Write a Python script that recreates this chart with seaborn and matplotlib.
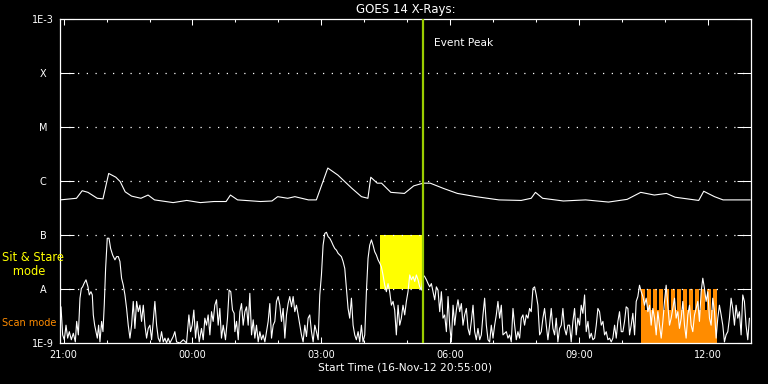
import numpy as np
import pandas as pd
import matplotlib
matplotlib.use("Agg")
import matplotlib.pyplot as plt
import matplotlib.dates as mdates
from matplotlib.ticker import NullLocator
import seaborn as sns

# ---------------- data ----------------
START = pd.Timestamp("2012-11-16 20:55:00")
END = pd.Timestamp("2012-11-17 13:00:00")

TITLE = "GOES 14 X-Rays:"
XLABEL = "Start Time (16-Nov-12 20:55:00)"

# long channel (1-8 A): minutes after start, log10 flux (W/m^2)
LONG_MIN = [0, 23, 31, 39, 52, 60, 68, 78, 84, 91, 100, 113, 123, 132, 158, 177, 196, 215, 232, 238,
            248, 280, 296, 304, 318, 328, 347, 358, 374, 388, 408, 421, 430, 434, 443, 449, 462, 481, 494, 507,
            517, 536, 555, 581, 613, 644, 658, 664, 674, 703, 734, 766, 792, 811, 830, 847, 859, 892, 899, 914,
            926, 964]
LONG_LOG = [-6.35, -6.32, -6.18, -6.21, -6.32, -6.33, -5.86, -5.93, -6.01, -6.20, -6.28, -6.32, -6.26, -6.35,
            -6.40, -6.36, -6.40, -6.38, -6.38, -6.26, -6.35, -6.38, -6.37, -6.29, -6.32, -6.29, -6.35, -6.35,
            -5.76, -5.89, -6.14, -6.29, -6.32, -5.93, -6.04, -6.04, -6.21, -6.23, -6.09, -6.04, -6.04, -6.14,
            -6.23, -6.29, -6.35, -6.36, -6.32, -6.21, -6.32, -6.37, -6.35, -6.39, -6.34, -6.21, -6.26, -6.23,
            -6.30, -6.36, -6.19, -6.29, -6.35, -6.35]

# short channel (0.5-4 A): minutes after start, log10 flux
SHORT_MIN = [
    0, 1.4, 3.7, 6.0, 8.4, 10.7, 13.0, 15.8, 18.6, 21.4,
    23.3, 25.6, 27.9, 29.8, 31.6, 33.5, 36.3, 39.1, 40.9, 43.2,
    45.1, 46.5, 48.4, 50.2, 52.1, 53.9, 55.8, 58.1, 60.0, 61.8,
    63.7, 66.0, 68.4, 70.7, 73.5, 76.7, 79.1, 81.4, 83.7, 86.0,
    88.4, 90.7, 93.0, 95.3, 97.7, 100.0, 102.3, 104.6, 107.0, 109.3,
    111.6, 113.9, 116.3, 118.6, 120.9, 123.2, 125.6, 127.9, 130.2, 132.5,
    134.9, 137.2, 139.5, 141.8, 144.2, 146.5, 148.8, 151.1, 153.5, 158.1,
    160.4, 162.8, 167.4, 172.1, 176.7, 180.0, 182.3, 184.6, 186.9, 189.3,
    191.6, 194.4, 197.6, 200.0, 202.3, 204.6, 206.9, 209.3, 211.6, 213.9,
    216.2, 218.6, 220.9, 223.2, 225.5, 227.9, 231.1, 233.9, 236.2, 238.5,
    240.9, 243.2,
    244.2, 246.5, 248.9, 251.2, 253.5, 255.8, 258.2, 260.5, 262.8, 265.1,
    267.5, 269.8, 272.1, 274.4, 276.8, 279.1, 281.4, 283.7, 286.1, 288.4,
    290.7, 293.0, 295.4, 297.7, 300.0, 302.3, 304.7, 307.0, 309.3, 311.6,
    314.0, 316.3, 318.6, 320.9, 323.3, 325.6, 327.9, 330.2, 332.6, 334.9,
    337.2, 339.5, 341.9, 344.2, 346.5, 348.8, 351.2, 353.5, 355.8, 358.1,
    360.5, 362.8, 365.1, 367.4, 369.8, 372.1, 374.4, 376.7, 379.1, 381.4,
    383.7, 386.0, 388.4, 390.7, 393.0, 395.3, 397.7, 400.0, 402.3, 404.6,
    407.0, 409.3, 411.6, 413.9, 416.3, 418.6, 420.9, 423.2, 425.6, 427.9,
    430.2, 432.5, 434.9, 437.2, 439.5, 441.8, 444.2, 446.5, 448.8, 451.1,
    453.5, 455.8, 458.1, 460.4, 462.8, 465.1, 467.4, 469.7, 472.1, 474.4,
    476.7, 479.0, 481.4, 483.7, 486.0,
    488.4, 490.7, 493.1, 495.4, 497.7, 500.0, 502.4, 504.7, 507.0, 509.3,
    511.7, 514.0, 516.3, 518.6, 521.0, 523.3, 525.6, 527.9, 530.3, 532.6,
    534.9, 537.2, 539.6, 541.9, 544.2, 546.5, 548.9, 551.2, 553.5, 555.8,
    558.2, 560.5, 562.8, 565.1, 567.5, 569.8, 572.1, 574.4, 576.8, 579.1,
    581.4, 583.7, 586.1, 588.4, 590.7, 593.0, 595.4, 597.7, 600.0, 602.3,
    604.7, 607.0, 609.3, 611.6, 614.0, 616.3, 618.6, 620.9, 623.3, 625.6,
    627.9, 630.2, 632.6, 634.9, 637.2, 639.5, 641.9, 644.2, 646.5, 648.8,
    651.2, 653.5, 655.8, 658.1, 660.5, 662.8, 665.1, 667.4, 669.8, 672.1,
    674.4, 676.7, 679.1, 681.4, 683.7, 686.0, 688.4, 690.7, 693.0, 695.3,
    697.7, 700.0, 702.3, 704.6, 707.0, 709.3, 711.6, 713.9, 716.3, 718.6,
    720.9, 723.2, 725.6, 727.9, 730.2,
    732.6, 734.9, 737.3, 739.6, 741.9, 744.2, 746.6, 748.9, 751.2, 753.5,
    755.9, 758.2, 760.5, 762.8, 765.2, 767.5, 769.8, 772.1, 774.5, 776.8,
    779.1, 781.4, 783.8, 786.1, 788.4, 790.7, 793.1, 795.4, 797.7, 800.0,
    802.4, 804.7, 807.0, 809.3, 811.7, 814.0, 816.3, 818.6, 821.0, 823.3,
    825.6, 827.9, 830.3, 832.6, 834.9, 837.2, 839.6, 841.9, 844.2, 846.5,
    848.9, 851.2, 853.5, 855.8, 858.2, 860.5, 862.8, 865.1, 867.5, 869.8,
    872.1, 874.4, 876.8, 879.1, 881.4, 883.7, 886.1, 888.4, 890.7, 893.0,
    895.4, 897.7, 900.0, 902.3, 904.7, 907.0, 909.3, 911.6, 914.0, 916.3,
    918.6, 920.9, 923.3, 925.6, 927.9, 930.2, 932.6, 934.9, 937.2, 939.5,
    941.9, 944.2, 946.5, 948.8, 951.2, 953.5, 955.8, 958.1, 960.5, 962.8,
]
SHORT_LOG = [
    -8.67, -8.33, -8.85, -8.94, -8.67, -8.91, -8.79, -8.94, -8.82, -8.98,
    -8.60, -8.85, -8.17, -7.99, -7.96, -7.90, -7.83, -7.96, -8.11, -8.05,
    -8.11, -8.48, -8.67, -8.79, -8.91, -8.67, -8.98, -8.60, -8.79, -8.30,
    -7.62, -7.06, -7.06, -7.25, -7.37, -7.46, -7.40, -7.40, -7.49, -7.80,
    -7.93, -8.11, -8.36, -8.67, -8.91, -8.67, -8.23, -8.73, -8.23, -8.42,
    -8.30, -8.60, -8.30, -8.67, -8.91, -8.73, -8.67, -8.94, -8.60, -8.23,
    -8.67, -8.91, -8.98, -8.79, -8.98, -8.91, -9.0, -8.91, -9.0, -8.88,
    -8.79, -8.98, -9.0, -8.94, -9.0, -8.48, -8.79, -8.67, -8.39, -8.91,
    -8.60, -8.98, -8.73, -8.94, -8.54, -8.67, -8.48, -8.85, -8.42, -8.60,
    -8.30, -8.20, -8.67, -8.36, -8.91, -8.67, -8.94, -8.54, -8.02, -8.05,
    -8.39, -8.45,
    -8.79, -8.60, -8.94, -8.42, -8.27, -8.67, -8.42, -8.33, -8.67, -8.08,
    -8.85, -8.57, -8.91, -8.67, -8.98, -8.79, -8.94, -8.85, -8.98, -8.79,
    -8.60, -8.27, -8.91, -8.67, -8.60, -8.23, -8.14, -8.30, -8.60, -8.36,
    -8.91, -8.48, -8.27, -8.14, -8.33, -8.14, -8.42, -8.30, -8.48, -8.67,
    -8.85, -8.98, -8.67, -8.88, -8.54, -8.48, -8.79, -8.98, -8.67, -8.79,
    -8.94, -8.11, -7.74, -7.19, -6.97, -6.95, -7.03, -7.06, -7.12, -7.19,
    -7.25, -7.28, -7.34, -7.37, -7.40, -7.49, -7.62, -7.99, -8.36, -8.54,
    -8.17, -8.67, -8.85, -8.94, -8.79, -8.98, -8.67, -8.98, -8.85, -8.05,
    -7.43, -7.19, -7.09, -7.19, -7.31, -7.37, -7.46, -7.52, -7.59, -7.74,
    -7.93, -8.05, -7.90, -8.05, -8.30, -8.23, -8.39, -8.85, -8.30, -8.67,
    -8.54, -8.30, -8.48, -8.23, -8.05,
    -7.74, -7.83, -7.77, -7.86, -7.74, -7.83, -7.96, -8.02, -7.74, -7.77,
    -7.83, -7.90, -7.96, -7.90, -8.05, -8.20, -7.96, -8.02, -8.42, -8.05,
    -8.54, -8.48, -8.79, -8.14, -8.67, -8.98, -8.30, -8.67, -8.39, -8.20,
    -8.42, -8.27, -8.67, -8.48, -8.36, -8.73, -8.85, -8.60, -8.30, -8.79,
    -8.94, -8.73, -8.94, -8.85, -8.48, -8.17, -8.67, -8.94, -8.98, -8.67,
    -8.91, -8.67, -8.48, -8.23, -8.54, -8.30, -8.85, -8.82, -8.79, -8.91,
    -8.85, -8.98, -8.36, -8.67, -8.94, -8.79, -8.91, -8.54, -8.48, -8.67,
    -8.48, -8.54, -8.36, -8.42, -7.99, -7.96, -8.11, -8.30, -8.85, -8.79,
    -8.54, -8.36, -8.67, -8.94, -8.67, -8.36, -8.73, -8.85, -8.54, -8.98,
    -8.73, -8.67, -8.36, -8.73, -8.85, -8.67, -8.67, -8.98, -8.60, -8.36,
    -8.85, -8.54, -8.67, -8.30, -8.45,
    -8.11, -8.79, -8.60, -8.91, -8.82, -8.94, -8.91, -8.67, -8.36, -8.42,
    -8.67, -8.60, -8.85, -8.79, -8.94, -8.91, -8.98, -8.91, -8.67, -8.91,
    -8.60, -8.42, -8.79, -8.79, -8.60, -8.33, -8.36, -8.85, -8.67, -8.45,
    -8.85, -8.23, -8.14, -7.93, -8.05, -8.14, -8.30, -8.17, -8.42, -8.30,
    -8.67, -8.36, -8.54, -8.85, -8.42, -8.67, -8.91, -8.60, -8.23, -7.93,
    -8.30, -8.67, -8.54, -8.36, -8.17, -8.54, -8.42, -8.73, -8.54, -8.23,
    -8.67, -8.91, -8.48, -8.30, -8.67, -8.79, -8.48, -8.36, -8.23, -8.60,
    -8.05, -7.80, -7.99, -8.23, -8.05, -8.54, -8.67, -8.17, -8.42, -8.91,
    -8.54, -8.30, -8.48, -8.67, -8.98, -8.85, -8.79, -8.54, -8.17, -8.36,
    -8.67, -8.30, -8.54, -8.42, -8.85, -8.11, -8.23, -8.67, -8.94, -8.54,
]

LEVEL_EXP = [-9, -8, -7, -6, -5, -4, -3]
LEVEL_LABELS = ["1E-9", "A", "B", "C", "M", "X", "1E-3"]
CLASS_EXP = [-8, -7, -6, -5, -4]

SIT_START, SIT_END = 446.5, 505.0          # minutes after start
SIT_LOW_EXP, SIT_HIGH_EXP = -8, -7
SCAN_STARTS = [811.7, 820.0, 828.4, 836.8, 845.1, 853.5, 861.9, 870.2, 878.6, 887.0, 895.4, 903.7, 912.1]
SCAN_WIDTH = 5.8
SCAN_LOW_EXP, SCAN_FLOOR_EXP, SCAN_HIGH_EXP = -9, -8.39, -8
PEAK_MIN = 507.5

WHITE = "#FFFFFF"
YELLOW = "#FFFF00"
ORANGE = "#FF8C00"
GREEN = "#9ACD00"


def to_time(mins):
    return (START + pd.to_timedelta(np.asarray(mins, dtype=float), unit="min")).to_pydatetime()


long_df = pd.DataFrame({"time": pd.to_datetime(to_time(LONG_MIN)), "flux": 10.0 ** np.array(LONG_LOG)})
short_df = pd.DataFrame({"time": pd.to_datetime(to_time(SHORT_MIN)), "flux": 10.0 ** np.array(SHORT_LOG)})

# ---------------- style ----------------
sns.set_style("dark", rc={
    "axes.facecolor": "black", "figure.facecolor": "black",
    "axes.edgecolor": WHITE, "text.color": WHITE, "axes.labelcolor": WHITE,
    "xtick.color": WHITE, "ytick.color": WHITE, "axes.grid": False,
})
plt.rcParams["font.family"] = ["DejaVu Sans"]

fig = plt.figure(figsize=(7.68, 3.84), dpi=100, facecolor="black")
ax = fig.add_axes([60 / 768, 1 - 343 / 384, 691 / 768, 324 / 384])
ax.set_facecolor("black")
ax.set_yscale("log")

# observation-mode blocks
ax.fill_between(to_time([SIT_START, SIT_END]), 10.0 ** SIT_LOW_EXP, 10.0 ** SIT_HIGH_EXP,
                color=YELLOW, lw=0, zorder=1)
ax.fill_between(to_time([SCAN_STARTS[0], SCAN_STARTS[-1] + SCAN_WIDTH]), 10.0 ** SCAN_LOW_EXP,
                10.0 ** SCAN_FLOOR_EXP, color=ORANGE, lw=0, zorder=1)
for s in SCAN_STARTS:
    ax.fill_between(to_time([s, s + SCAN_WIDTH]), 10.0 ** SCAN_LOW_EXP, 10.0 ** SCAN_HIGH_EXP,
                    color=ORANGE, lw=0, zorder=1)

# class level dotted lines
for e in CLASS_EXP:
    ax.axhline(10.0 ** e, color=WHITE, lw=0.9, ls=(0, (1, 6)), zorder=2)

sns.lineplot(data=long_df, x="time", y="flux", color=WHITE, lw=0.8, ax=ax, zorder=3)
sns.lineplot(data=short_df, x="time", y="flux", color=WHITE, lw=0.8, ax=ax, zorder=3)

ax.axvline(to_time([PEAK_MIN])[0], color=GREEN, lw=1.6, zorder=4)
ax.text((434 - 60) / 691, 0.926, "Event Peak", transform=ax.transAxes, fontsize=7.7,
        color=WHITE, ha="left", va="center")

ax.set_xlim(START.to_pydatetime(), END.to_pydatetime())
ax.set_ylim(10.0 ** LEVEL_EXP[0], 10.0 ** LEVEL_EXP[-1])

# axes / ticks
ax.xaxis.set_major_locator(mdates.HourLocator(byhour=range(0, 24, 3)))
ax.xaxis.set_minor_locator(mdates.HourLocator())
ax.xaxis.set_major_formatter(mdates.DateFormatter("%H:%M"))
ax.tick_params(axis="x", which="major", direction="in", top=True, bottom=True, length=4.3,
               width=0.75, labelsize=7, pad=5, colors=WHITE)
ax.tick_params(axis="x", which="minor", direction="in", top=True, bottom=True, length=2.2,
               width=0.75, colors=WHITE)

ax.set_yticks([10.0 ** e for e in LEVEL_EXP])
ax.set_yticklabels(LEVEL_LABELS)
ax.yaxis.set_minor_locator(NullLocator())
ax.tick_params(axis="y", which="major", direction="in", left=True, right=True, length=10,
               width=0.75, labelsize=7, pad=12.2, colors=WHITE)
for lbl in ax.get_yticklabels():
    lbl.set_horizontalalignment("center")

for sp in ax.spines.values():
    sp.set_color(WHITE)
    sp.set_linewidth(0.9)

ax.set_ylabel("")
ax.set_xlabel(XLABEL, fontsize=7.7, color=WHITE)
ax.xaxis.set_label_coords(0.5, -(363 - 343) / 324)
ax.set_title(TITLE, fontsize=8.5, color=WHITE, pad=4.0)

fig.text(2 / 768, 1 - 264.5 / 384, "Sit & Stare\n   mode", color=YELLOW, fontsize=8.3,
         ha="left", va="center", linespacing=1.15)
fig.text(2 / 768, 1 - 323 / 384, "Scan mode", color=ORANGE, fontsize=7.0, ha="left", va="center")

fig.savefig("out.png", dpi=100, facecolor="black")
